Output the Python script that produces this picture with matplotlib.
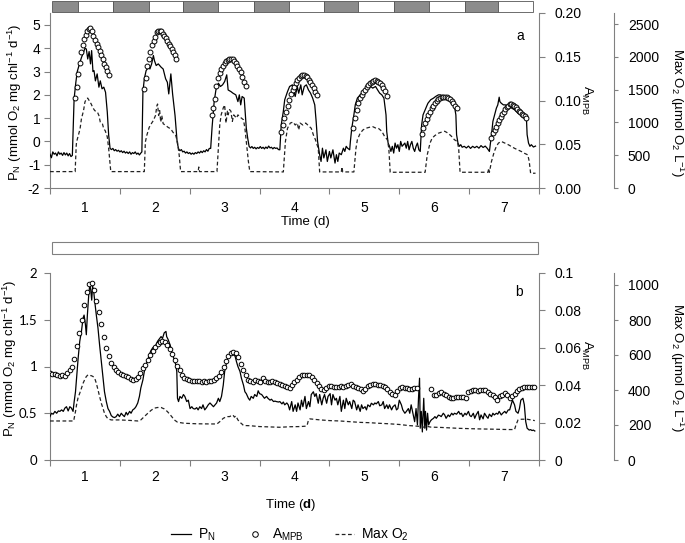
import numpy as np
import matplotlib
matplotlib.use("Agg")
import matplotlib.pyplot as plt
import matplotlib.transforms as mtransforms
from matplotlib.lines import Line2D
from matplotlib.patches import Rectangle

plt.rcParams['font.family'] = ['Liberation Sans', 'DejaVu Sans']
plt.rcParams['mathtext.fontset'] = 'custom'
plt.rcParams['mathtext.rm'] = 'Liberation Sans'
plt.rcParams['mathtext.it'] = 'Liberation Sans:italic'
plt.rcParams['mathtext.bf'] = 'Liberation Sans:bold'

# ---------------- panel a (light/dark cycle) ----------------
# P_N, (day, mmol O2 mg chl-1 d-1)
top_pn = [
    (0.50, -0.55), (0.52, -0.70), (0.54, -0.45), (0.56, -0.55), (0.58, -0.50), (0.60, -0.62), (0.62, -0.45),
    (0.64, -0.55), (0.66, -0.50), (0.68, -0.60), (0.70, -0.48), (0.72, -0.58), (0.74, -0.50), (0.76, -0.62),
    (0.78, -0.52), (0.80, -0.65), (0.82, -0.60),
    (0.845, 1.83), (0.87, 2.54), (0.89, 3.00), (0.915, 3.26), (0.95, 3.60), (0.98, 3.83), (1.00, 4.00),
    (1.02, 3.97), (1.04, 3.54), (1.06, 3.86), (1.08, 3.33), (1.096, 3.90), (1.115, 3.00), (1.13, 3.04),
    (1.15, 2.60), (1.175, 2.90), (1.20, 2.33), (1.22, 2.60), (1.245, 2.26), (1.27, 2.33), (1.295, 2.11),
    (1.32, 1.26), (1.34, 0.26), (1.36, -0.30),
    (1.38, -0.35), (1.40, -0.30), (1.42, -0.40), (1.44, -0.35), (1.46, -0.42), (1.48, -0.38), (1.50, -0.45),
    (1.52, -0.40), (1.54, -0.48), (1.56, -0.42), (1.58, -0.50), (1.60, -0.45), (1.62, -0.52), (1.64, -0.45),
    (1.66, -0.55), (1.68, -0.48), (1.70, -0.52), (1.72, -0.45), (1.74, -0.55), (1.76, -0.50), (1.78, -0.58),
    (1.80, -0.50), (1.815, -0.45),
    (1.83, 2.11), (1.85, 2.69), (1.876, 3.04), (1.91, 3.19), (1.93, 3.11), (1.955, 3.33), (1.98, 3.69),
    (1.995, 3.47), (2.02, 3.26), (2.05, 3.33), (2.09, 3.19), (2.12, 3.11), (2.155, 2.69), (2.18, 2.54),
    (2.20, 2.04), (2.23, 2.90), (2.255, 2.04), (2.29, 1.11), (2.32, -0.03), (2.34, -0.31),
    (2.36, -0.40), (2.38, -0.35), (2.40, -0.45), (2.42, -0.42), (2.44, -0.50), (2.46, -0.45), (2.48, -0.52),
    (2.50, -0.48), (2.52, -0.55), (2.54, -0.50), (2.56, -0.55), (2.58, -0.48), (2.60, -0.52), (2.62, -0.45),
    (2.64, -0.50), (2.66, -0.42), (2.68, -0.48), (2.70, -0.40), (2.72, -0.45), (2.74, -0.35), (2.76, -0.42),
    (2.78, -0.30), (2.80, -0.30),
    (2.82, 0.60), (2.85, 1.71), (2.875, 2.21), (2.91, 2.50), (2.94, 2.36), (2.97, 2.43), (3.00, 2.57),
    (3.03, 2.86), (3.05, 2.21), (3.09, 2.14), (3.12, 2.07), (3.16, 2.00), (3.19, 1.71), (3.21, 2.00),
    (3.23, 1.57), (3.25, 1.93), (3.28, 1.86), (3.31, 0.57), (3.33, 0.14), (3.35, -0.21),
    (3.37, -0.28), (3.39, -0.22), (3.41, -0.30), (3.43, -0.25), (3.45, -0.32), (3.47, -0.26), (3.49, -0.30),
    (3.51, -0.22), (3.53, -0.30), (3.55, -0.25), (3.57, -0.32), (3.59, -0.24), (3.61, -0.30), (3.63, -0.20),
    (3.65, -0.28), (3.67, -0.25), (3.69, -0.32), (3.71, -0.26), (3.73, -0.30), (3.75, -0.28), (3.77, -0.35),
    (3.79, -0.36),
    (3.81, 0.71), (3.84, 1.29), (3.86, 1.79), (3.90, 2.14), (3.93, 2.36), (3.97, 2.43), (3.99, 2.14),
    (4.01, 1.93), (4.04, 2.36), (4.06, 2.07), (4.09, 2.43), (4.11, 2.00), (4.14, 2.36), (4.17, 2.43),
    (4.20, 2.21), (4.23, 2.07), (4.26, 1.86), (4.29, 1.57), (4.31, 0.86), (4.33, 0.00), (4.36, -0.57),
    (4.38, -0.86), (4.40, -0.29), (4.42, -0.71), (4.45, -0.36), (4.47, -0.86), (4.50, -0.43), (4.52, -0.71),
    (4.55, -0.36), (4.58, -0.93), (4.60, -0.57), (4.62, -0.86), (4.64, -0.50), (4.67, -0.57), (4.70, -0.29),
    (4.72, -0.43), (4.74, -0.21), (4.76, -0.29), (4.79, -0.36),
    (4.80, 0.00), (4.82, 0.57), (4.85, 1.14), (4.87, 1.57), (4.90, 1.86), (4.94, 2.00), (4.98, 2.07),
    (5.01, 2.21), (5.06, 2.29), (5.09, 2.36), (5.12, 2.29), (5.16, 2.36), (5.19, 2.21), (5.22, 2.07),
    (5.25, 2.00), (5.28, 1.86), (5.31, 1.14), (5.32, 0.43), (5.34, -0.07), (5.36, -0.21),
    (5.38, -0.43), (5.40, -0.21), (5.42, -0.50), (5.44, -0.07), (5.46, -0.29), (5.48, -0.14), (5.50, -0.43),
    (5.52, 0.00), (5.54, -0.21), (5.56, -0.14), (5.58, -0.07), (5.60, -0.29), (5.62, 0.00), (5.64, -0.36),
    (5.66, -0.14), (5.68, 0.00), (5.70, -0.29), (5.72, -0.43), (5.74, -0.21), (5.76, -0.07), (5.78, -0.36),
    (5.80, -0.43),
    (5.82, 0.71), (5.84, 1.14), (5.87, 1.36), (5.89, 1.50), (5.91, 1.64), (5.95, 1.79), (5.99, 1.86),
    (6.02, 1.93), (6.06, 2.00), (6.09, 2.00), (6.13, 1.93), (6.16, 1.86), (6.20, 1.79), (6.23, 1.71),
    (6.27, 1.64), (6.29, 1.50), (6.31, 1.14), (6.32, 0.29), (6.34, -0.07),
    (6.36, -0.21), (6.38, -0.14), (6.40, -0.25), (6.43, -0.21), (6.46, -0.28), (6.49, -0.20), (6.52, -0.30),
    (6.55, -0.21), (6.58, -0.27), (6.61, -0.21), (6.64, -0.29), (6.67, -0.18), (6.70, -0.26), (6.73, -0.20),
    (6.76, -0.30), (6.79, -0.43),
    (6.82, 0.29), (6.84, 0.86), (6.87, 1.21), (6.89, 1.43), (6.91, 1.57), (6.93, 1.90), (6.94, 1.71),
    (6.96, 1.64), (6.99, 1.57), (7.02, 1.57), (7.06, 1.50), (7.11, 1.43), (7.15, 1.36), (7.20, 1.21),
    (7.25, 1.14), (7.29, 1.07), (7.32, 1.00), (7.33, 0.29), (7.35, -0.07), (7.37, -0.21), (7.39, -0.14),
    (7.42, -0.24), (7.45, -0.20),
]

# Max O2, (day, umol O2 L-1)
top_o2 = [
    (0.50, 250), (0.86, 250),
    (0.875, 640), (0.88, 700), (0.90, 780), (0.93, 900), (0.95, 1055), (0.98, 1180), (1.00, 1310),
    (1.02, 1360), (1.04, 1370), (1.06, 1335), (1.09, 1280), (1.11, 1230), (1.14, 1180), (1.18, 1155),
    (1.20, 1105), (1.22, 1005), (1.25, 980), (1.27, 900), (1.29, 875), (1.32, 780), (1.34, 600), (1.37, 250),
    (1.85, 250),
    (1.865, 700), (1.885, 800), (1.92, 925), (1.95, 980), (1.98, 1030), (2.01, 1105), (2.03, 1255),
    (2.04, 1280), (2.055, 1105), (2.07, 1180), (2.085, 1005), (2.10, 1105), (2.12, 980), (2.155, 955),
    (2.19, 925), (2.23, 900), (2.26, 850), (2.30, 800), (2.325, 700), (2.35, 495), (2.37, 250),
    (2.62, 250), (2.63, 320), (2.64, 250), (2.89, 250),
    (2.91, 605), (2.93, 960), (2.95, 1115), (2.98, 1220), (3.00, 1265), (3.02, 990), (3.04, 1170),
    (3.05, 1115), (3.07, 1195), (3.09, 1170), (3.11, 1015), (3.13, 1115), (3.15, 1090), (3.17, 1065),
    (3.19, 1115), (3.21, 1090), (3.24, 1065), (3.27, 1040), (3.29, 910), (3.31, 710), (3.34, 405), (3.36, 250),
    (3.84, 245),
    (3.87, 710), (3.90, 910), (3.94, 990), (3.98, 1005), (4.01, 960), (4.04, 990), (4.06, 885), (4.08, 990),
    (4.12, 960), (4.16, 990), (4.19, 960), (4.24, 910), (4.27, 810), (4.30, 735), (4.34, 605), (4.36, 245),
    (4.67, 245), (4.68, 320), (4.69, 245), (4.85, 245),
    (4.88, 605), (4.90, 735), (4.94, 835), (4.98, 885), (5.02, 910), (5.07, 925), (5.12, 935), (5.17, 910),
    (5.20, 910), (5.25, 865), (5.29, 785), (5.33, 735), (5.35, 605), (5.37, 240),
    (5.87, 240),
    (5.90, 505), (5.94, 685), (5.97, 760), (6.01, 800), (6.06, 835), (6.10, 850), (6.15, 865), (6.20, 835),
    (6.25, 785), (6.29, 735), (6.33, 710), (6.35, 605), (6.37, 240),
    (6.77, 240), (6.78, 300), (6.79, 240),
    (6.82, 405), (6.86, 555), (6.89, 635), (6.92, 685), (6.96, 710), (7.01, 685), (7.06, 660), (7.10, 635),
    (7.15, 605), (7.20, 580), (7.25, 555), (7.29, 530), (7.34, 505), (7.36, 405), (7.38, 225), (7.45, 225),
]

# A_MPB circles: first and last day of each light period, and the values in between
top_a_span = [(0.859, 1.342), (1.852, 2.306), (2.813, 3.300), (3.810, 4.320),
              (4.840, 5.320), (5.820, 6.320), (6.820, 7.320)]
top_a = [
    [0.1025, 0.1158, 0.130, 0.1433, 0.156, 0.164, 0.170, 0.175, 0.180, 0.182, 0.183, 0.179,
     0.174, 0.169, 0.165, 0.161, 0.157, 0.152, 0.147, 0.142, 0.138, 0.134, 0.129],
    [0.113, 0.126, 0.139, 0.148, 0.156, 0.163, 0.168, 0.173, 0.178, 0.1795, 0.180, 0.179,
     0.176, 0.174, 0.171, 0.168, 0.165, 0.162, 0.159, 0.156, 0.152, 0.147],
    [0.0834, 0.091, 0.1017, 0.117, 0.1253, 0.131, 0.136, 0.1398, 0.1425, 0.145, 0.1467,
     0.1474, 0.1478, 0.147, 0.145, 0.1425, 0.1398, 0.136, 0.1322, 0.127, 0.1215, 0.117],
    [0.0643, 0.072, 0.080, 0.087, 0.094, 0.101, 0.107, 0.112, 0.116, 0.120, 0.123, 0.1255,
     0.1275, 0.129, 0.129, 0.128, 0.127, 0.124, 0.1215, 0.1177, 0.114, 0.1101, 0.1063],
    [0.0682, 0.0796, 0.0891, 0.0968, 0.1025, 0.1063, 0.1094, 0.112, 0.1151, 0.1177, 0.1196,
     0.1215, 0.1226, 0.1234, 0.1226, 0.1215, 0.1196, 0.1174, 0.1147, 0.1109, 0.1052],
    [0.0617, 0.0682, 0.074, 0.0789, 0.0834, 0.0872, 0.0911, 0.0941, 0.0968, 0.0994, 0.1014,
     0.1025, 0.1036, 0.1044, 0.1044, 0.1036, 0.1025, 0.1014, 0.0994, 0.0968, 0.0941, 0.0911],
    [0.0568, 0.0625, 0.0663, 0.0701, 0.074, 0.0777, 0.0815, 0.0842, 0.0872, 0.0899, 0.0922,
     0.0941, 0.0956, 0.0956, 0.0949, 0.0937, 0.0922, 0.0903, 0.0884, 0.0865, 0.0846, 0.0834,
     0.0823, 0.0804],
]

# dark/light bar above panel a (first box is dark)
top_bar_edges = [0.53, 0.90, 1.40, 1.92, 2.40, 2.90, 3.42, 3.92, 4.42, 4.91, 5.42, 5.92, 6.44, 6.92, 7.41]

# ---------------- panel b (continuous light) ----------------
bot_pn = [
    (0.50, 0.464), (0.52, 0.50), (0.545, 0.49), (0.57, 0.52), (0.595, 0.50), (0.62, 0.525), (0.642, 0.52),
    (0.666, 0.536), (0.69, 0.52), (0.713, 0.555), (0.736, 0.57), (0.76, 0.525), (0.784, 0.57), (0.807, 0.555),
    (0.83, 0.52), (0.846, 0.625), (0.865, 0.73), (0.88, 0.875), (0.903, 1.09), (0.926, 1.27), (0.95, 1.375),
    (0.974, 1.52), (0.988, 1.55), (1.007, 1.45), (1.02, 1.34), (1.035, 1.55), (1.055, 1.77), (1.07, 1.875),
    (1.083, 1.82), (1.097, 1.71), (1.11, 1.86), (1.126, 1.80), (1.14, 1.70), (1.163, 1.55), (1.187, 1.41),
    (1.21, 1.23), (1.235, 1.05), (1.258, 0.875), (1.28, 0.73), (1.306, 0.625), (1.33, 0.55), (1.353, 0.52),
    (1.377, 0.475), (1.40, 0.46), (1.424, 0.454), (1.447, 0.464), (1.47, 0.49), (1.495, 0.464), (1.52, 0.50),
    (1.54, 0.482), (1.565, 0.464), (1.59, 0.51), (1.61, 0.482), (1.64, 0.52), (1.66, 0.50), (1.685, 0.536),
    (1.71, 0.55), (1.73, 0.57), (1.756, 0.61), (1.78, 0.68), (1.80, 0.77), (1.83, 0.857), (1.85, 0.946),
    (1.874, 1.02), (1.90, 1.07), (1.92, 1.125), (1.945, 1.17), (1.97, 1.20), (1.99, 1.21), (2.016, 1.23),
    (2.04, 1.27), (2.06, 1.29), (2.09, 1.32), (2.11, 1.30), (2.135, 1.36), (2.16, 1.375), (2.17, 1.32),
    (2.19, 1.29), (2.22, 1.23), (2.25, 1.14), (2.28, 1.07), (2.30, 1.02), (2.315, 0.946), (2.325, 0.66),
    (2.34, 0.625), (2.36, 0.68), (2.386, 0.66), (2.41, 0.70), (2.43, 0.68), (2.457, 0.625), (2.48, 0.64),
    (2.505, 0.55), (2.53, 0.57), (2.55, 0.55), (2.575, 0.545), (2.60, 0.56), (2.62, 0.536), (2.645, 0.57),
    (2.67, 0.55), (2.69, 0.59), (2.715, 0.536), (2.74, 0.56), (2.765, 0.59), (2.79, 0.61), (2.84, 0.57),
    (2.885, 0.61), (2.91, 0.66), (2.93, 0.625), (2.955, 0.68), (2.98, 0.80), (3.00, 0.946), (3.03, 1.05),
    (3.05, 1.11), (3.08, 1.12), (3.10, 1.125), (3.12, 1.13), (3.15, 1.11), (3.17, 1.05), (3.19, 1.00),
    (3.22, 0.946), (3.24, 0.875), (3.27, 0.80), (3.29, 0.73), (3.31, 0.71), (3.34, 0.66), (3.36, 0.64),
    (3.38, 0.68), (3.41, 0.66), (3.43, 0.70), (3.46, 0.68), (3.48, 0.74), (3.50, 0.71), (3.53, 0.70),
    (3.55, 0.68), (3.57, 0.66), (3.60, 0.68), (3.62, 0.66), (3.65, 0.64), (3.67, 0.65), (3.70, 0.625),
    (3.72, 0.63), (3.74, 0.625), (3.77, 0.62), (3.79, 0.625), (3.82, 0.60), (3.84, 0.62), (3.86, 0.59),
    (3.89, 0.61), (3.91, 0.59), (3.93, 0.536), (3.96, 0.625), (3.98, 0.52), (4.01, 0.59), (4.03, 0.52),
    (4.05, 0.61), (4.08, 0.536), (4.10, 0.64), (4.12, 0.57), (4.15, 0.68), (4.17, 0.55), (4.20, 0.625),
    (4.22, 0.57), (4.24, 0.70), (4.27, 0.73), (4.29, 0.68), (4.31, 0.71), (4.34, 0.607), (4.36, 0.70),
    (4.39, 0.59), (4.41, 0.66), (4.43, 0.70), (4.46, 0.607), (4.48, 0.68), (4.51, 0.71), (4.53, 0.59),
    (4.55, 0.70), (4.58, 0.64), (4.60, 0.66), (4.62, 0.59), (4.65, 0.68), (4.67, 0.52), (4.70, 0.64),
    (4.72, 0.55), (4.74, 0.66), (4.77, 0.59), (4.79, 0.625), (4.82, 0.55), (4.84, 0.64), (4.86, 0.625),
    (4.89, 0.536), (4.91, 0.59), (4.94, 0.52), (4.96, 0.59), (4.98, 0.55), (5.01, 0.57), (5.03, 0.536),
    (5.05, 0.59), (5.08, 0.57), (5.10, 0.607), (5.13, 0.59), (5.15, 0.61), (5.17, 0.60), (5.20, 0.625),
    (5.22, 0.58), (5.25, 0.59), (5.27, 0.625), (5.29, 0.55), (5.32, 0.59), (5.34, 0.55), (5.36, 0.59),
    (5.39, 0.536), (5.41, 0.57), (5.44, 0.59), (5.46, 0.536), (5.48, 0.55), (5.50, 0.64), (5.53, 0.59),
    (5.55, 0.536), (5.58, 0.50), (5.60, 0.518), (5.63, 0.55), (5.65, 0.50), (5.67, 0.59), (5.70, 0.48),
    (5.72, 0.41), (5.74, 0.55), (5.76, 0.375), (5.775, 0.66), (5.79, 0.875), (5.80, 0.34), (5.815, 0.52),
    (5.83, 0.30), (5.85, 0.66), (5.865, 0.34), (5.875, 0.52), (5.89, 0.32), (5.905, 0.50), (5.92, 0.375),
    (5.94, 0.41), (5.96, 0.43), (5.99, 0.446), (6.01, 0.464), (6.03, 0.446), (6.06, 0.48), (6.08, 0.475),
    (6.10, 0.464), (6.13, 0.50), (6.15, 0.482), (6.17, 0.446), (6.20, 0.482), (6.22, 0.464), (6.25, 0.50),
    (6.27, 0.482), (6.29, 0.50), (6.32, 0.49), (6.35, 0.52), (6.37, 0.49), (6.39, 0.50), (6.41, 0.464),
    (6.44, 0.50), (6.46, 0.482), (6.49, 0.52), (6.51, 0.475), (6.53, 0.464), (6.56, 0.50), (6.58, 0.446),
    (6.60, 0.482), (6.63, 0.52), (6.65, 0.43), (6.67, 0.482), (6.70, 0.44), (6.72, 0.50), (6.75, 0.464),
    (6.77, 0.446), (6.79, 0.49), (6.82, 0.464), (6.84, 0.50), (6.86, 0.482), (6.89, 0.50), (6.91, 0.49),
    (6.93, 0.52), (6.96, 0.482), (6.98, 0.50), (7.01, 0.52), (7.03, 0.50), (7.06, 0.536), (7.08, 0.536),
    (7.10, 0.59), (7.12, 0.64), (7.15, 0.59), (7.17, 0.52), (7.20, 0.50), (7.22, 0.55), (7.24, 0.64),
    (7.27, 0.66), (7.29, 0.59), (7.31, 0.41), (7.33, 0.34), (7.36, 0.32), (7.38, 0.325), (7.40, 0.315),
    (7.42, 0.32), (7.44, 0.31),
]

bot_o2 = [
    (0.50, 223), (0.84, 223), (0.846, 238), (0.865, 277), (0.88, 315), (0.90, 353), (0.926, 382), (0.95, 410),
    (0.974, 439), (1.00, 462), (1.02, 477), (1.045, 487), (1.07, 483), (1.09, 482), (1.116, 477), (1.14, 467),
    (1.163, 439), (1.187, 401), (1.21, 363), (1.235, 324), (1.258, 296), (1.28, 267), (1.306, 248), (1.33, 235),
    (1.377, 229), (1.50, 229), (1.65, 226), (1.756, 223), (1.80, 229), (1.85, 248), (1.90, 267), (1.945, 283),
    (1.99, 296), (2.04, 300), (2.09, 300), (2.135, 292), (2.18, 277), (2.23, 254), (2.28, 229), (2.325, 216),
    (2.42, 210), (2.60, 207), (2.80, 206), (2.89, 206), (2.93, 219), (2.98, 238), (3.03, 248), (3.07, 248),
    (3.10, 254), (3.12, 257), (3.14, 245), (3.16, 252), (3.19, 229), (3.22, 215), (3.25, 205), (3.27, 197),
    (3.36, 196), (3.50, 191), (3.65, 189), (3.79, 187), (3.93, 190), (4.08, 191), (4.15, 193), (4.18, 197),
    (4.20, 229), (4.22, 235), (4.37, 229), (4.51, 225), (4.65, 223), (4.79, 219), (4.94, 215), (5.08, 213),
    (5.20, 210), (5.35, 207), (5.50, 203), (5.63, 197), (5.80, 192), (5.87, 186), (5.90, 192), (5.95, 188),
    (6.10, 186), (6.35, 181), (6.60, 178), (6.85, 176), (7.06, 174), (7.15, 174), (7.17, 200), (7.20, 229),
    (7.25, 233), (7.33, 233), (7.44, 225),
]

# A_MPB circles every 0.035 d from day 0.5 (nan = no sample)
bot_a_step = 0.035
bot_a = [
    0.0465, 0.046, 0.0458, 0.0455, 0.045, 0.0452, 0.0448, 0.0463, 0.048, 0.05,
    0.054, 0.061, 0.068, 0.075, 0.083, 0.09, 0.094, 0.0948, 0.091, 0.085,
    0.079, 0.0725, 0.066, 0.06, 0.0555, 0.052, 0.05, 0.048, 0.047, 0.046,
    0.0455, 0.0448, 0.0442, 0.0435, 0.043, 0.0435, 0.0445, 0.0465, 0.049, 0.051,
    0.0535, 0.056, 0.0585, 0.0605, 0.062, 0.063, 0.0635, 0.063, 0.0615, 0.0595,
    0.0565, 0.0535, 0.0505, 0.048, 0.0455, 0.044, 0.0432, 0.0428, 0.0425, 0.0422,
    0.042, 0.0425, 0.0418, 0.042, 0.0416, 0.042, 0.0425, 0.043, 0.0438, 0.045,
    0.047, 0.05, 0.053, 0.0555, 0.057, 0.058, 0.057, 0.055, 0.0515, 0.048,
    0.0455, 0.043, 0.042, 0.0416, 0.043, 0.042, 0.0418, 0.0438, 0.0425, 0.0416,
    0.0418, 0.042, 0.0416, 0.041, 0.0405, 0.0402, 0.0398, 0.039, 0.0384, 0.040,
    0.0415, 0.043, 0.0443, 0.0453, 0.0455, 0.0455, 0.0455, 0.0445, 0.0428, 0.041,
    0.0395, 0.038, 0.0375, 0.0385, 0.0398, 0.0395, 0.039, 0.0388, 0.0392, 0.0395,
    0.0392, 0.0398, 0.0402, 0.0405, 0.0395, 0.039, 0.0385, 0.0378, 0.037, 0.0378,
    0.0395, 0.04, 0.0405, 0.0405, 0.04, 0.0402, 0.0395, 0.039, 0.038, 0.0365,
    0.0355, 0.0348, 0.037, 0.0385, 0.0392, 0.0384, 0.0385, 0.0382, 0.038, 0.0384,
    0.0383, np.nan, np.nan, np.nan, np.nan, np.nan, 0.038, 0.035, 0.0345, 0.0357,
    0.0366, 0.0352, 0.0345, 0.0339, 0.0332, 0.033, 0.0335, 0.0339, 0.0338, 0.0335,
    0.0332, 0.0362, 0.0368, 0.0372, 0.0375, 0.037, 0.0373, 0.0375, 0.0372, 0.0363,
    0.0355, 0.0346, 0.0337, 0.0322, 0.034, 0.035, 0.0357, 0.0345, 0.0332, 0.034,
    0.0355, 0.037, 0.0378, 0.0384, 0.0388, 0.0388, 0.0388, 0.0388, 0.0388,
]

bot_bar_edges = [0.53, 7.49]

days = [1, 2, 3, 4, 5, 6, 7]
top_pn_ticks = [-2, -1, 0, 1, 2, 3, 4, 5]
top_a_ticks = [0.0, 0.05, 0.10, 0.15, 0.20]
top_o2_ticks = [0, 500, 1000, 1500, 2000, 2500]
bot_pn_ticks = [0, 0.5, 1, 1.5, 2]
bot_a_ticks = [0, 0.02, 0.04, 0.06, 0.08, 0.1]
bot_o2_ticks = [0, 200, 400, 600, 800, 1000]

# ---------------- drawing ----------------
W, H = 685, 543
gray = '#808080'
fs = 9.5      # axis labels
tfs = 10      # tick labels

fig = plt.figure(figsize=(W / 100, H / 100), dpi=100)


def px_axes(x0, y_top, x1, y_bot):
    return fig.add_axes([x0 / W, 1 - y_bot / H, (x1 - x0) / W, (y_bot - y_top) / H])


def style_panel(ax, axA, axO, xpad):
    for a in (ax, axA, axO):
        for s in a.spines.values():
            s.set_color(gray)
            s.set_linewidth(0.8)
        a.tick_params(colors=gray, labelcolor='black', labelsize=tfs, width=0.8, length=4, direction='out')
    ax.spines['top'].set_visible(False)
    ax.spines['right'].set_visible(False)
    for a in (axA, axO):
        a.spines['top'].set_visible(False)
        a.spines['left'].set_visible(False)
        a.spines['bottom'].set_visible(False)
    axO.spines['right'].set_position(('axes', (614 - 50) / 489))
    ax.set_xlim(0.5, 7.5)
    ax.set_xticks(np.arange(0.5, 8, 1))
    ax.set_xticklabels([])
    ax.set_xticks(days, minor=True)
    ax.set_xticklabels([str(d) for d in days], minor=True)
    ax.tick_params(axis='x', which='minor', length=0, pad=xpad)
    ax.tick_params(axis='y', pad=3)
    axA.tick_params(axis='y', pad=7)
    axO.tick_params(axis='y', length=3, pad=7)


def draw_series(ax, axA, axO, pn, o2, a_t, a_v, ms):
    t, v = np.array(pn).T
    ax.plot(t, v, color='black', lw=0.9, zorder=3)
    t, v = np.array(o2).T
    axO.plot(t, v, color='#222222', lw=0.9, dashes=(3, 2))
    axA.plot(a_t, a_v, ls='none', marker='o', ms=ms, mfc='white', mec='black', mew=0.7)


# panel a
ax1 = px_axes(50, 13, 539, 188)
axO1 = ax1.twinx()
axA1 = ax1.twinx()
style_panel(ax1, axA1, axO1, xpad=9)

a_t = np.concatenate([np.linspace(s, e, len(v)) for (s, e), v in zip(top_a_span, top_a)])
a_v = np.concatenate(top_a)
draw_series(ax1, axA1, axO1, top_pn, top_o2, a_t, a_v, ms=3.5)

ax1.set_ylim(-2, 5 + 12 / 23.3)
ax1.set_yticks(top_pn_ticks)
ax1.set_yticklabels([str(v) for v in top_pn_ticks])
axA1.set_ylim(0, 0.2)
axA1.set_yticks(top_a_ticks)
axA1.set_yticklabels(['%.2f' % v for v in top_a_ticks])
axO1.set_ylim(0, 2500 * 175 / 164)
axO1.set_yticks(top_o2_ticks)
axO1.set_yticklabels([str(v) for v in top_o2_ticks])

# light / dark bar
trans = mtransforms.blended_transform_factory(ax1.transData, ax1.transAxes)
for i in range(len(top_bar_edges) - 1):
    x0, x1 = top_bar_edges[i], top_bar_edges[i + 1]
    fc = '#8c8c8c' if i % 2 == 0 else 'white'
    ax1.add_patch(Rectangle((x0, 1.006), x1 - x0, 0.063, transform=trans, clip_on=False,
                            facecolor=fc, edgecolor='#555555', lw=0.6))

ax1.text((305 - 50) / 489, (188 - 222) / 175, 'Time (d)', transform=ax1.transAxes,
         ha='center', va='center', fontsize=fs)
ax1.text(-0.072, 0.49, r'P$_\mathrm{N}$ (mmol O$_2$ mg chl$^{-1}$ d$^{-1}$)', transform=ax1.transAxes,
         rotation=90, ha='center', va='center', fontsize=fs)
ax1.text(1.098, 0.50, r'A$_\mathrm{MPB}$', transform=ax1.transAxes,
         rotation=270, ha='center', va='center', fontsize=fs)
ax1.text(1.282, 0.434, r'Max O$_2$ (µmol O$_2$ L$^{-1}$)', transform=ax1.transAxes,
         rotation=270, ha='center', va='center', fontsize=fs)
ax1.text(0.961, 0.869, 'a', transform=ax1.transAxes, ha='center', va='center', fontsize=tfs)

# panel b
ax2 = px_axes(50, 273, 539, 460)
axO2 = ax2.twinx()
axA2 = ax2.twinx()
style_panel(ax2, axA2, axO2, xpad=7)

b_t = 0.5 + bot_a_step * np.arange(len(bot_a))
draw_series(ax2, axA2, axO2, bot_pn, bot_o2, b_t, bot_a, ms=3.3)

ax2.set_ylim(0, 2)
ax2.set_yticks(bot_pn_ticks)
ax2.set_yticklabels([('%g' % v) for v in bot_pn_ticks], fontfamily='Lato', fontsize=9.5)
ax2.tick_params(axis='y', pad=5)
axA2.set_ylim(0, 0.1)
axA2.set_yticks(bot_a_ticks)
axA2.set_yticklabels([('%g' % v) for v in bot_a_ticks])
axO2.set_ylim(0, 1000 * 187 / 175)
axO2.set_yticks(bot_o2_ticks)
axO2.set_yticklabels([str(v) for v in bot_o2_ticks])

trans = mtransforms.blended_transform_factory(ax2.transData, ax2.transAxes)
ax2.add_patch(Rectangle((bot_bar_edges[0], 1.102), bot_bar_edges[1] - bot_bar_edges[0], 0.064,
                        transform=trans, clip_on=False, facecolor='white', edgecolor=gray, lw=0.8))

ax2.text(0.493, -0.24, r'Time ($\mathbf{d}$)', transform=ax2.transAxes,
         ha='center', va='center', fontsize=fs)
ax2.text(-0.081, 0.545, r'P$_\mathrm{N}$ (mmol O$_2$ mg chl$^{-1}$ d$^{-1}$)', transform=ax2.transAxes,
         rotation=90, ha='center', va='center', fontsize=fs)
ax2.text(1.098, 0.56, r'A$_\mathrm{MPB}$', transform=ax2.transAxes,
         rotation=270, ha='center', va='center', fontsize=fs)
ax2.text(1.282, 0.497, r'Max O$_2$ (µmol O$_2$ L$^{-1}$)', transform=ax2.transAxes,
         rotation=270, ha='center', va='center', fontsize=fs)
ax2.text(0.959, 0.898, 'b', transform=ax2.transAxes, ha='center', va='center', fontsize=tfs)

# legend under panel b
handles = [Line2D([], [], color='black', lw=0.9),
           Line2D([], [], ls='none', marker='o', ms=4.0, mfc='white', mec='black', mew=0.7),
           Line2D([], [], color='#222222', lw=0.9, dashes=(3, 2))]
labels = [r'P$_\mathrm{N}$', r'A$_\mathrm{MPB}$', r'Max O$_2$']
fig.legend(handles, labels, loc='center', bbox_to_anchor=(290 / W, 1 - 535 / H), ncol=3,
           frameon=False, fontsize=tfs, handlelength=1.4, handletextpad=0.5, columnspacing=2.2)

fig.savefig('out.png', dpi=100)
